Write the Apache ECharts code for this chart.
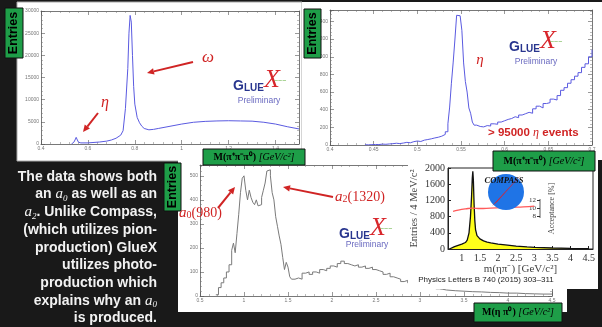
<!DOCTYPE html>
<html>
<head lang="en">
    <meta charset="UTF-8">
    <title>GlueX a0 / a2</title>
    <script type="text/javascript" src="https://cdn.jsdelivr.net/npm/echarts@6/dist/echarts.min.js"></script>
    <style>
        html, body { margin: 0; padding: 0; background: #191919; }
        #slide { width: 602px; height: 327px; }
    </style>
</head>
<body>
<div id="slide"></div>
<script type="text/javascript">
    /* top left: M(pi+ pi- pi0), omega peak */
    var omegaMass = [0.53, 0.54, 0.545, 0.55, 0.555, 0.56, 0.57, 0.6, 0.65, 0.68, 0.7, 0.72, 0.74, 0.75, 0.76, 0.77, 0.775, 0.78, 0.785, 0.79,
        0.795, 0.8, 0.81, 0.82, 0.83, 0.84, 0.86, 0.88, 0.9, 0.95, 1.0, 1.05, 1.1, 1.15, 1.2, 1.25, 1.3, 1.35, 1.4, 1.45, 1.5];
    var omegaCounts = [0, 400, 900, 1500, 900, 400, 250, 250, 450, 650, 900, 1300, 2000, 3000, 8000, 17000, 25000, 29000, 27500, 20000,
        13000, 9000, 6000, 4800, 4000, 3500, 3200, 3300, 3500, 4000, 4500, 4900, 5100, 5200, 5250, 5200, 5150, 4900, 4500, 3900, 3400];

    /* top right: eta region */
    var etaMass = [0.440, 0.444, 0.448, 0.452, 0.456, 0.460, 0.464, 0.468, 0.472, 0.476,
        0.480, 0.484, 0.488, 0.492, 0.496, 0.500, 0.504, 0.508, 0.512, 0.516,
        0.520, 0.524, 0.528, 0.532, 0.535, 0.537, 0.539, 0.541, 0.543, 0.545,
        0.547, 0.549, 0.551, 0.553, 0.555, 0.557, 0.559, 0.561, 0.563, 0.565,
        0.568, 0.572, 0.576, 0.580, 0.584, 0.588, 0.592, 0.596, 0.600, 0.604,
        0.608, 0.612, 0.616, 0.620, 0.624, 0.628, 0.632, 0.636, 0.640, 0.644,
        0.648, 0.652, 0.656, 0.660, 0.664, 0.668, 0.672, 0.676, 0.680, 0.684,
        0.688, 0.692, 0.696, 0.700];
    var etaCounts = [2, 4, 6, 5, 10, 8, 12, 15, 20, 16,
        22, 30, 25, 38, 45, 40, 55, 62, 70, 80,
        88, 100, 120, 150, 240, 430, 700, 930, 1190, 1470,
        1465, 1470, 1300, 930, 720, 600, 420, 360, 260, 225,
        210, 205, 220, 215, 240, 235, 260, 275, 290, 300,
        320, 310, 340, 355, 370, 360, 410, 440, 420, 470,
        480, 520, 510, 560, 620, 650, 700, 740, 780, 820,
        880, 920, 1000, 1080];

    /* bottom: M(eta pi0) */
    var etaPiMass = [0.68, 0.71, 0.74, 0.77, 0.80, 0.83, 0.86, 0.88, 0.90, 0.92,
        0.94, 0.96, 0.98, 1.00, 1.02, 1.04, 1.06, 1.08, 1.10, 1.12,
        1.14, 1.16, 1.18, 1.20, 1.22, 1.24, 1.26, 1.28, 1.30, 1.32,
        1.34, 1.36, 1.38, 1.40, 1.42, 1.44, 1.46, 1.48, 1.50, 1.52,
        1.54, 1.58, 1.62, 1.66, 1.70, 1.74, 1.78, 1.82, 1.86, 1.90,
        1.94, 1.98, 2.02, 2.06, 2.10, 2.14, 2.18, 2.22, 2.26, 2.30,
        2.34, 2.38, 2.42, 2.46, 2.50, 2.54, 2.58, 2.62, 2.66, 2.70,
        2.74, 2.78, 2.82, 2.86, 2.90, 2.94, 2.98, 3.02, 3.06, 3.10,
        3.14, 3.18, 3.22, 3.26, 3.30, 3.40, 3.50, 3.60, 3.70, 3.80,
        3.90, 4.00, 4.10, 4.20, 4.30, 4.40, 4.50];
    var etaPiCounts = [5, 35, 55, 75, 100, 130, 190, 220, 180, 260,
        340, 430, 490, 500, 440, 400, 440, 410, 390, 380,
        400, 375, 380, 410, 440, 470, 520, 525, 500, 430,
        400, 330, 290, 250, 215, 160, 110, 140, 120, 80,
        70, 75, 70, 95, 100, 90, 100, 95, 110, 105,
        115, 125, 120, 135, 145, 135, 130, 125, 130, 120,
        125, 115, 120, 110, 105, 100, 90, 95, 80, 75,
        70, 60, 65, 55, 50, 48, 45, 40, 38, 35,
        40, 30, 28, 25, 22, 20, 18, 17, 15, 14,
        12, 12, 10, 9, 8, 8, 7];

    /* COMPASS inset */
    var compassMass = [0.66, 0.70, 0.80, 0.90, 1.00, 1.10, 1.15, 1.20, 1.24, 1.27, 1.29, 1.305, 1.32, 1.34, 1.36,
        1.38, 1.42, 1.50, 1.60, 1.70, 1.80, 2.00, 2.20, 2.50, 2.80, 3.00, 3.50, 4.00, 4.50];
    var compassCounts = [0, 30, 60, 90, 120, 160, 220, 400, 800, 1300, 1750, 1920, 1700, 1100, 700,
        480, 330, 250, 200, 170, 150, 120, 100, 70, 50, 40, 25, 15, 8];
    var acceptMass = [0.76, 0.9, 1.1, 1.3, 1.5, 1.8, 2.1, 2.4, 2.7, 3.0];
    var acceptPct = [9.3, 9.6, 9.9, 10.1, 10.0, 10.1, 10.2, 10.3, 10.4, 10.6];
    var compassTicks = [1, 1.5, 2, 2.5, 3, 3.5, 4, 4.5];
    var acceptTicks = [8, 10, 12];

    var RED = '#d02424', BLUE = '#5a5ae0', AX = '#555';
    var SERIF = 'Liberation Serif', SANS = 'Liberation Sans';

    function zip(a, b) {
        var out = [];
        for (var i = 0; i < a.length; i++) out.push([a[i], b[i]]);
        return out;
    }
    function plain(v) { return String(v); }   // no thousands separator

    // ROOT-like frame axis: ticks inside, tiny grey labels
    function rootAxis(grid, pos, min, max, step, labels, showMax, z) {
        return {
            type: 'value', gridIndex: grid, position: pos, min: min, max: max, interval: step, z: z,
            axisLine: {show: true, onZero: false, lineStyle: {color: AX, width: 0.8}},
            axisTick: {show: true, inside: true, length: 4, lineStyle: {color: AX, width: 0.6}},
            minorTick: {show: true, splitNumber: 5, length: 2, lineStyle: {color: '#777', width: 0.5}},
            splitLine: {show: false},
            axisLabel: {show: labels, showMaxLabel: showMax, color: '#777', fontSize: 5, margin: 2, fontFamily: SANS, formatter: plain}
        };
    }

    function txt(x, y, text, st, z) {
        st.text = text;
        st.align = st.textAlign = st.align || 'left';
        st.verticalAlign = st.textVerticalAlign = st.verticalAlign || 'middle';
        return {type: 'text', x: x, y: y, z: z || 20, style: st};
    }

    function arrow(x1, y1, x2, y2) {
        var a = Math.atan2(y2 - y1, x2 - x1), L = 7, W = 3.3;
        var bx = x2 - L * Math.cos(a), by = y2 - L * Math.sin(a);
        return [
            {type: 'line', z: 20, shape: {x1: x1, y1: y1, x2: bx, y2: by}, style: {stroke: RED, lineWidth: 2}},
            {type: 'polygon', z: 20, shape: {points: [[x2, y2], [bx - W * Math.sin(a), by + W * Math.cos(a)], [bx + W * Math.sin(a), by - W * Math.cos(a)]]}, style: {fill: RED}}
        ];
    }

    var LOGO = {
        g: {fontFamily: SANS, fontWeight: 'bold', fontSize: 14, fill: '#28358e', color: '#28358e', verticalAlign: 'bottom'},
        l: {fontFamily: SANS, fontWeight: 'bold', fontSize: 10, fill: '#28358e', color: '#28358e', verticalAlign: 'bottom'},
        x: {fontFamily: SERIF, fontStyle: 'italic', fontSize: 26, fill: '#d8262b', color: '#d8262b', verticalAlign: 'bottom'}
    };
    function gluex(x, y, px, py) {
        return [
            txt(x, y, '{g|G}{l|LUE}{x|X}', {rich: LOGO, fontSize: 14}),
            txt(x + 41, y + 1, '~~~', {fontFamily: SANS, fontSize: 7, fill: '#5fae3a'}),
            txt(px, py, 'Preliminary', {fontFamily: SANS, fontSize: 8.5, fill: '#6a6ac0', align: 'center'})
        ];
    }

    function greenBox(x, y, w, h, text, vertical, rich) {
        var st = vertical ? {fontFamily: SANS, fontWeight: 'bold', fontSize: 12.5, fill: '#000', align: 'center'}
            : {fontFamily: SERIF, fontSize: 10, fill: '#000', align: 'center', rich: rich};
        var t = txt(x + w / 2, y + h / 2, text, st);
        if (vertical) t.rotation = Math.PI / 2;
        return [{type: 'rect', z: 19, shape: {x: x, y: y, width: w, height: h}, style: {fill: '#1e9e48', stroke: '#111', lineWidth: 1}}, t];
    }

    var MASS = {
        m: {fontFamily: SERIF, fontWeight: 'bold', fontSize: 10, fill: '#000', color: '#000'},
        i: {fontFamily: SERIF, fontStyle: 'italic', fontSize: 10, fill: '#000', color: '#000'}
    };
    var AI = {fontFamily: SERIF, fontStyle: 'italic', fontSize: 15, fill: '#f2f2f2', color: '#f2f2f2'};
    var SUB = {fontFamily: SERIF, fontStyle: 'italic', fontSize: 9, fill: '#f2f2f2', color: '#f2f2f2', verticalAlign: 'bottom'};
    var RA = {fontFamily: SERIF, fontStyle: 'italic', fontSize: 15, fill: RED, color: RED};
    var RS = {fontFamily: SERIF, fontSize: 10, fill: RED, color: RED, verticalAlign: 'bottom'};
    var RN = {fontFamily: SERIF, fontSize: 14, fill: RED, color: RED};

    var deco = [
        {type: 'rect', z: -10, shape: {x: 17, y: 2, width: 285, height: 159}, style: {fill: '#fff', stroke: '#aaa', lineWidth: 1}},
        {type: 'rect', z: -10, shape: {x: 302, y: 2, width: 300, height: 158}, style: {fill: '#fff'}},
        {type: 'rect', z: 3, shape: {x: 178, y: 155, width: 389, height: 157}, style: {fill: '#fff'}},
        {type: 'rect', z: 6, shape: {x: 408, y: 160, width: 190, height: 129}, style: {fill: '#fff'}},
        {type: 'line', z: 9, shape: {x1: 540, y1: 199, x2: 540, y2: 218}, style: {stroke: '#333', lineWidth: 0.8}},
        {type: 'circle', z: 9, shape: {cx: 506, cy: 192, r: 18}, style: {fill: '#1f74e6'}},
        {type: 'polygon', z: 9, shape: {points: [[492, 206], [516, 180], [521, 175], [497, 202]]}, style: {fill: '#e0202a'}},
        txt(504, 181, 'COMPASS', {fontFamily: SERIF, fontStyle: 'italic', fontWeight: 'bold', fontSize: 8.5, fill: '#111', align: 'center'}),
        txt(486, 280, 'Physics Letters B 740 (2015) 303–311', {fontFamily: SANS, fontSize: 8, fill: '#222', align: 'center'}),
        txt(157, 168, 'The data shows both\nan {a|a}{s|0} as well as an\n{a|a}{s|2}. Unlike Compass,\n(which utilizes pion-\nproduction) GlueX\nutilizes photo-\nproduction which\nexplains why an {a|a}{s|0}\nis produced.',
            {fontFamily: SANS, fontWeight: 'bold', fontSize: 14, lineHeight: 17.7, fill: '#f2f2f2', align: 'right', verticalAlign: 'top', rich: {a: AI, s: SUB}}),
        txt(208, 58, 'ω', {fontFamily: SERIF, fontStyle: 'italic', fontSize: 17, fill: RED, align: 'center'}),
        txt(105, 103, 'η', {fontFamily: SERIF, fontStyle: 'italic', fontSize: 16, fill: RED, align: 'center'}),
        txt(480, 60, 'η', {fontFamily: SERIF, fontStyle: 'italic', fontSize: 15, fill: RED, align: 'center'}),
        txt(488, 133, '> 95000 {e|η} events', {fontFamily: SANS, fontWeight: 'bold', fontSize: 11.5, fill: RED,
            rich: {e: {fontFamily: SERIF, fontStyle: 'italic', fontSize: 12, fill: RED, color: RED}}}),
        txt(335, 197, '{a|a}{s|2}{n|(1320)}', {fontSize: 14, fill: RED, rich: {a: RA, s: RS, n: RN}}),
        txt(179, 213, '{a|a}{s|0}{n|(980)}', {fontSize: 14, fill: RED, rich: {a: RA, s: RS, n: RN}})
    ];
    deco = deco.concat(
        arrow(193, 62, 147, 73), arrow(98, 113, 83, 132),
        arrow(333, 197, 283, 187), arrow(218, 208, 235, 187),
        gluex(233, 80, 259, 101), gluex(509, 41, 536, 62), gluex(339, 228, 367, 245),
        greenBox(5, 8, 18, 50, 'Entries', true),
        greenBox(304, 9, 17, 49, 'Entries', true),
        greenBox(164, 163, 17, 48, 'Entries', true),
        greenBox(203, 149, 102, 16, '{m|M(π⁺π⁻π⁰)} {i|[GeV/c²]}', false, MASS),
        greenBox(493, 151, 102, 20, '{m|M(π⁺π⁻π⁰)} {i|[GeV/c²]}', false, MASS),
        greenBox(474, 303, 88, 19, '{m|M(η π⁰)} {i|[GeV/c²]}', false, MASS)
    );

    var myChart = echarts.init(document.getElementById('slide'), null, {renderer: 'canvas'});
    myChart.setOption({
        backgroundColor: '#191919',
        animation: false,
        grid: [
            {left: 41, top: 11, width: 258, height: 133},
            {left: 330, top: 10, width: 262, height: 135},
            {left: 200, top: 165, width: 352, height: 131},
            {left: 448, top: 168, width: 145, height: 81, show: true, z: 7, borderColor: '#222', borderWidth: 1}
        ],
        xAxis: [
            rootAxis(0, 'bottom', 0.4, 1.5, 0.2, true, false, 0),
            rootAxis(0, 'top', 0.4, 1.5, 0.2, false, false, 0),
            rootAxis(1, 'bottom', 0.4, 0.7, 0.05, true, true, 0),
            rootAxis(1, 'top', 0.4, 0.7, 0.05, false, false, 0),
            rootAxis(2, 'bottom', 0.5, 4.5, 0.5, true, true, 4),
            rootAxis(2, 'top', 0.5, 4.5, 0.5, false, false, 4),
            {
                type: 'value', gridIndex: 3, position: 'bottom', min: 0.62, max: 4.62, z: 7,
                axisLine: {show: true, onZero: false, lineStyle: {color: '#222', width: 1}},
                axisTick: {show: true, inside: true, length: 3, customValues: compassTicks, lineStyle: {color: '#222'}},
                splitLine: {show: false},
                axisLabel: {customValues: compassTicks, color: '#333', fontSize: 10, fontFamily: SERIF, margin: 4},
                name: 'm(ηπ⁻) [GeV/c²]', nameLocation: 'middle', nameGap: 14,
                nameTextStyle: {fontFamily: SERIF, fontSize: 11, color: '#444'}
            }
        ],
        yAxis: [
            rootAxis(0, 'left', 0, 30000, 5000, true, true, 0),
            rootAxis(0, 'right', 0, 30000, 5000, false, false, 0),
            rootAxis(1, 'left', 0, 1530, 200, true, false, 0),
            rootAxis(1, 'right', 0, 1530, 200, false, false, 0),
            rootAxis(2, 'left', 0, 545, 100, true, false, 4),
            rootAxis(2, 'right', 0, 545, 100, false, false, 4),
            {
                type: 'value', gridIndex: 3, position: 'left', min: 0, max: 2000, interval: 400, z: 7,
                axisLine: {show: true, onZero: false, lineStyle: {color: '#222', width: 1}},
                axisTick: {show: true, inside: true, length: 3, lineStyle: {color: '#222'}},
                splitLine: {show: false},
                axisLabel: {color: '#333', fontSize: 10, fontFamily: SERIF, margin: 3, formatter: plain},
                name: 'Entries / 4 MeV/c²', nameLocation: 'middle', nameGap: 28,
                nameTextStyle: {fontFamily: SERIF, fontSize: 10.5, color: '#444'}
            },
            {
                type: 'value', gridIndex: 3, position: 'right', offset: -53, min: 0, max: 20, z: 7,
                axisLine: {show: false},
                axisTick: {show: true, inside: true, length: 3, customValues: acceptTicks, lineStyle: {color: '#333'}},
                splitLine: {show: false},
                axisLabel: {inside: true, customValues: acceptTicks, color: '#333', fontSize: 7, fontFamily: SERIF, margin: 4},
                name: 'Acceptance [%]', nameLocation: 'middle', nameRotate: 90, nameGap: 8,
                nameTextStyle: {fontFamily: SERIF, fontSize: 8, color: '#444'}
            }
        ],
        series: [
            {
                name: 'omega', type: 'line', xAxisIndex: 0, yAxisIndex: 0, z: 2, showSymbol: false, symbol: 'none',
                data: zip(omegaMass, omegaCounts), lineStyle: {color: BLUE, width: 1}
            },
            {
                name: 'eta', type: 'line', step: 'end', xAxisIndex: 2, yAxisIndex: 2, z: 2, symbol: 'none',
                data: zip(etaMass, etaCounts), lineStyle: {color: BLUE, width: 1}
            },
            {
                name: 'eta pi0', type: 'line', step: 'end', xAxisIndex: 4, yAxisIndex: 4, z: 4, symbol: 'none',
                data: zip(etaPiMass, etaPiCounts), lineStyle: {color: '#7a7a7a', width: 1}
            },
            {
                name: 'compass', type: 'line', xAxisIndex: 6, yAxisIndex: 6, z: 8, symbol: 'none',
                data: zip(compassMass, compassCounts), lineStyle: {color: '#111', width: 1.3},
                areaStyle: {color: '#ffff1a', opacity: 1}
            },
            {
                name: 'acceptance', type: 'line', smooth: true, xAxisIndex: 6, yAxisIndex: 7, z: 8, symbol: 'none',
                data: zip(acceptMass, acceptPct), lineStyle: {color: '#ff5a5a', width: 1.3}
            }
        ],
        graphic: {elements: deco}
    });
</script>
</body>
</html>
